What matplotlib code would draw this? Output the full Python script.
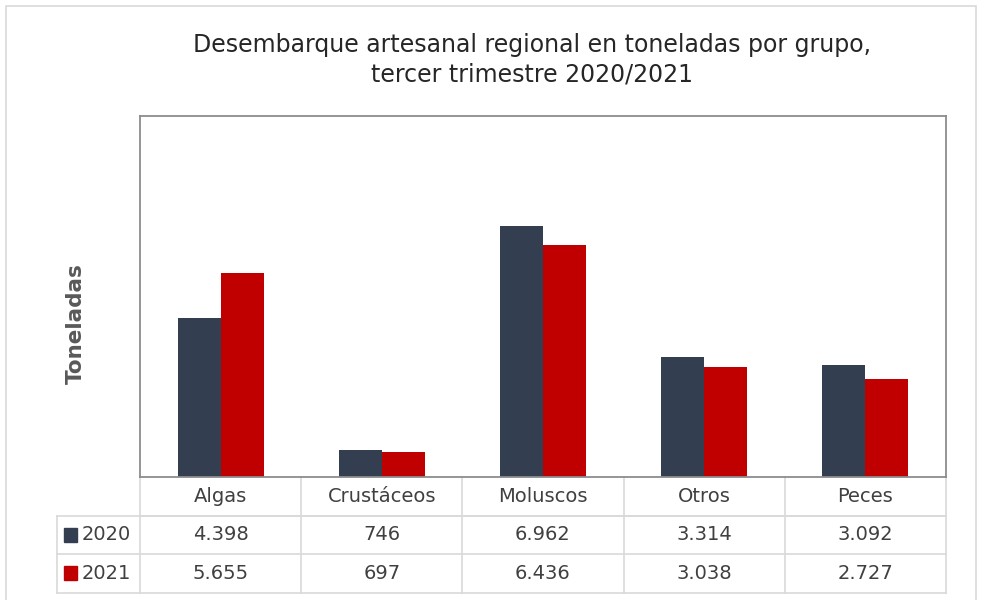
import matplotlib
matplotlib.use("Agg")
import matplotlib.pyplot as plt
import matplotlib.transforms as mtransforms
from matplotlib.patches import Rectangle
import numpy as np

plt.rcParams["font.family"] = ["DejaVu Sans"]

categories = ["Algas", "Crustáceos", "Moluscos", "Otros", "Peces"]
series_names = ["2020", "2021"]
values_2020 = [4398, 746, 6962, 3314, 3092]
values_2021 = [5655, 697, 6436, 3038, 2727]
labels_2020 = ["4.398", "746", "6.962", "3.314", "3.092"]
labels_2021 = ["5.655", "697", "6.436", "3.038", "2.727"]
colors = ["#333f50", "#c00000"]

W, H = 981, 600
fig = plt.figure(figsize=(W / 100, H / 100), dpi=100)
fig.patch.set_facecolor("white")

# outer chart border
fig.add_artist(Rectangle((6 / W, -0.01), 970 / W, 1 - 6 / H + 0.01,
                         transform=fig.transFigure, fill=False,
                         edgecolor="#d9d9d9", lw=1.2))

left, right, top, bottom = 140, 946, 116, 477
ax = fig.add_axes([left / W, 1 - bottom / H, (right - left) / W, (bottom - top) / H])

x = np.arange(len(categories))
bw = 0.267
ax.bar(x - bw / 2, values_2020, bw, color=colors[0])
ax.bar(x + bw / 2, values_2021, bw, color=colors[1])
ax.set_xlim(-0.5, len(categories) - 0.5)
ax.set_ylim(0, 10000)
ax.set_xticks([])
ax.set_yticks([])
for s in ax.spines.values():
    s.set_color("#8c8c8c")
    s.set_linewidth(1.3)

fig.text(532 / W, 1 - 60 / H,
         "Desembarque artesanal regional en toneladas por grupo,\ntercer trimestre 2020/2021",
         ha="center", va="center", fontsize=17, color="#262626", linespacing=1.3)

fig.text(76 / W, 1 - 324 / H, "Toneladas", rotation=90, ha="center", va="center",
         fontsize=15.5, fontweight="bold", color="#595959")

# data table below the plot
trans = mtransforms.blended_transform_factory(ax.transData, ax.transAxes)
row_h = 38.5 / (bottom - top)
gx0 = -0.5 - (left - 57) / ((right - left) / len(categories))
line_kw = dict(color="#d9d9d9", lw=1.2, transform=trans, clip_on=False)

# horizontal lines
ax.plot([-0.5, 4.5], [-row_h, -row_h], **line_kw)
for k in (1, 2, 3):
    ax.plot([gx0, 4.5], [-row_h * k, -row_h * k], **line_kw)
# vertical lines
for c in range(len(categories) + 1):
    ax.plot([c - 0.5, c - 0.5], [0, -3 * row_h], **line_kw)
ax.plot([gx0, gx0], [-row_h, -3 * row_h], **line_kw)

txt_kw = dict(transform=trans, ha="center", va="center", fontsize=14,
              color="#404040", clip_on=False)
for i, cat in enumerate(categories):
    ax.text(i, -row_h * 0.5, cat, **txt_kw)
    ax.text(i, -row_h * 1.5, labels_2020[i], **txt_kw)
    ax.text(i, -row_h * 2.5, labels_2021[i], **txt_kw)

for r, (name, col) in enumerate(zip(series_names, colors)):
    yc = -row_h * (1.5 + r)
    ax.add_patch(Rectangle((gx0 + 0.045, yc - 0.02), 0.08, 0.04,
                           transform=trans, color=col, clip_on=False))
    ax.text(gx0 + 0.155, yc, name, transform=trans, ha="left", va="center",
            fontsize=14, color="#404040", clip_on=False)

fig.savefig("out.png", dpi=100)
